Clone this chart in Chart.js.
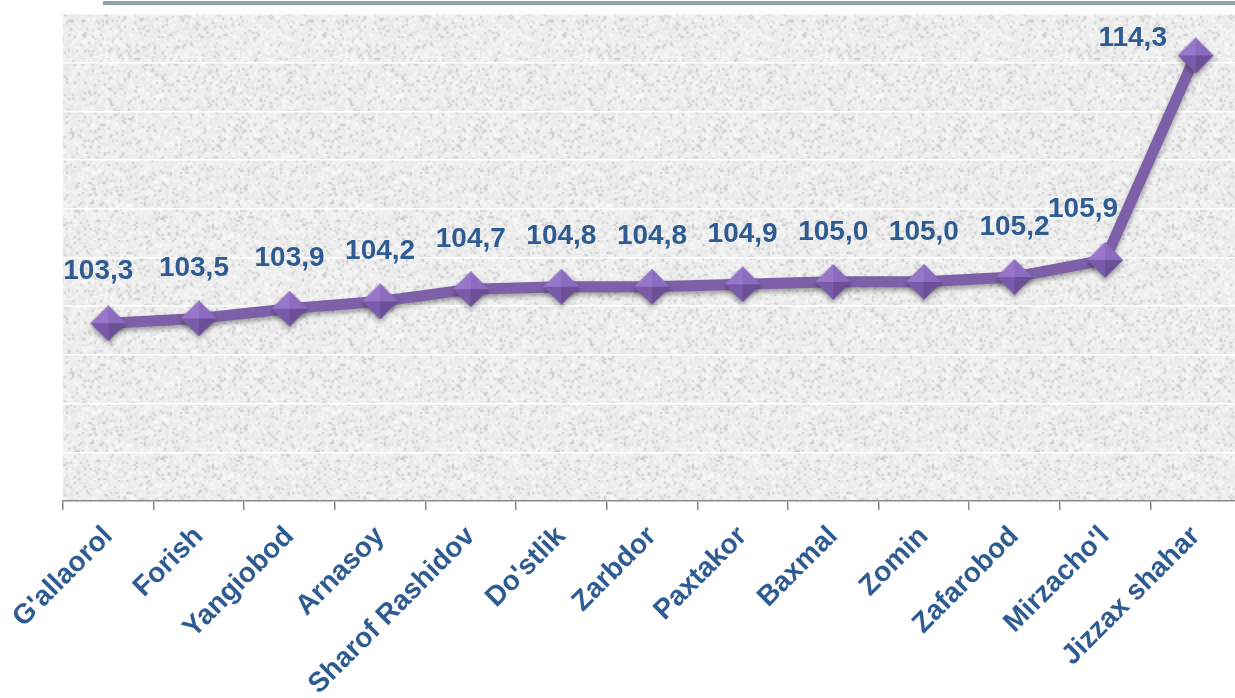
<!DOCTYPE html>
<html>
<head>
<meta charset="utf-8">
<script src="https://cdn.jsdelivr.net/npm/chart.js@4.4.1/dist/chart.umd.min.js"></script>
<style>
  html, body { margin: 0; padding: 0; background: #fff; overflow: hidden; width: 1235px; height: 698px; }
  #topRule { position: absolute; left: 103px; top: 1px; width: 1132px; height: 4px; background: #8ba5ae; }
  #wrap { position: absolute; left: 0; top: 0; width: 1241px; height: 698px; }
</style>
</head>
<body>
<div id="topRule"></div>
<div id="wrap"><canvas id="growthChart" width="1241" height="698"></canvas></div>
<script>
"strict";

// districts of Jizzax region
const categories = [
  "G'allaorol", "Forish", "Yangiobod", "Arnasoy", "Sharof Rashidov", "Do'stlik",
  "Zarbdor", "Paxtakor", "Baxmal", "Zomin", "Zafarobod", "Mirzacho'l", "Jizzax shahar"
];
const growthValues = [103.3, 103.5, 103.9, 104.2, 104.7, 104.8, 104.8, 104.9, 105.0, 105.0, 105.2, 105.9, 114.3];
const yMin = 96;
const yMax = 116;
const yStep = 2;

const labelColor = "#2e5c92";
const lineColor = "#7e60a8";

// grey speckled background, built once
function makeTexture() {
  const small = document.createElement("canvas");
  small.width = 120;
  small.height = 120;
  const sctx = small.getContext("2d");
  const img = sctx.createImageData(120, 120);
  let seed = 12345;
  const next = () => {
    seed = (seed * 1103515245 + 12345) & 0x7fffffff;
    return seed / 0x7fffffff;
  };
  for (let i = 0; i < 120 * 120; i++) {
    const n = next();
    let v = 238 + (n - 0.5) * 24;
    if (n < 0.07) v -= 26;
    img.data[i * 4] = v;
    img.data[i * 4 + 1] = v;
    img.data[i * 4 + 2] = v;
    img.data[i * 4 + 3] = 255;
  }
  sctx.putImageData(img, 0, 0);
  const big = document.createElement("canvas");
  big.width = 240;
  big.height = 240;
  const bctx = big.getContext("2d");
  bctx.imageSmoothingEnabled = true;
  bctx.drawImage(small, 0, 0, 240, 240);
  return big;
}

// bevelled diamond marker
function makeDiamond() {
  const c = document.createElement("canvas");
  const s = 36;
  c.width = s;
  c.height = s;
  const g = c.getContext("2d");
  const m = s / 2;
  const tri = (ax, ay, bx, by, color) => {
    g.beginPath();
    g.moveTo(m, m);
    g.lineTo(ax, ay);
    g.lineTo(bx, by);
    g.closePath();
    g.fillStyle = color;
    g.fill();
  };
  tri(0, m, m, 0, "#9877cb");
  tri(m, 0, s, m, "#8c6cc0");
  tri(s, m, m, s, "#6d4f98");
  tri(m, s, 0, m, "#7a5aa9");
  return c;
}

const texture = makeTexture();
const diamond = makeDiamond();

const plotBackground = {
  id: "plotBackground",
  beforeDraw(chart) {
    const { ctx, chartArea } = chart;
    ctx.save();
    ctx.fillStyle = ctx.createPattern(texture, "repeat");
    ctx.fillRect(chartArea.left, chartArea.top, chartArea.right - chartArea.left, chartArea.bottom - chartArea.top);
    ctx.restore();
  },
};

const lineShadow = {
  id: "lineShadow",
  beforeDatasetDraw(chart) {
    const ctx = chart.ctx;
    ctx.save();
    ctx.shadowColor = "rgba(0,0,0,0.35)";
    ctx.shadowBlur = 5;
    ctx.shadowOffsetY = 3;
  },
  afterDatasetDraw(chart) {
    chart.ctx.restore();
  },
};

// value labels, Excel style (comma decimal)
const valueLabels = {
  id: "valueLabels",
  afterDatasetsDraw(chart, args, opts) {
    const { ctx } = chart;
    const meta = chart.getDatasetMeta(0);
    ctx.save();
    ctx.font = "bold 28px 'Liberation Sans', Arial, sans-serif";
    ctx.fillStyle = labelColor;
    ctx.textAlign = "center";
    ctx.textBaseline = "middle";
    meta.data.forEach((pt, i) => {
      const shift = opts.shifts[i] || [0, -50];
      const text = growthValues[i].toFixed(1).replace(".", ",");
      ctx.fillText(text, pt.x + shift[0], pt.y + shift[1]);
    });
    ctx.restore();
  },
};

const ctx = document.getElementById("growthChart").getContext("2d");

new Chart(ctx, {
  type: "line",
  data: {
    labels: categories,
    datasets: [
      {
        data: growthValues,
        borderColor: lineColor,
        borderWidth: 11,
        tension: 0,
        pointStyle: diamond,
        pointRadius: 18,
        clip: false,
      },
    ],
  },
  plugins: [plotBackground, lineShadow, valueLabels],
  options: {
    responsive: false,
    animation: false,
    events: [],
    layout: { autoPadding: false, padding: { top: 14, left: 0, right: 0, bottom: 0 } },
    plugins: {
      legend: { display: false },
      tooltip: { enabled: false },
      valueLabels: {
        shifts: { 0: [-10, -52], 1: [-5, -50], 11: [-22, -51], 12: [-63, -17] },
      },
    },
    scales: {
      x: {
        offset: true,
        grid: {
          offset: true,
          drawOnChartArea: false,
          drawTicks: true,
          tickLength: 9,
          color: "#8a8a8a",
          lineWidth: 1.5,
        },
        border: { color: "#8a8a8a", width: 1.5 },
        ticks: {
          color: labelColor,
          font: { family: "'Liberation Sans', Arial, sans-serif", size: 28, weight: "bold" },
          minRotation: 45,
          maxRotation: 45,
          padding: 10,
          autoSkip: false,
        },
        afterFit(scale) {
          scale.height = 197;
          scale.paddingLeft = 0;
          scale.paddingRight = 0;
        },
      },
      y: {
        min: yMin,
        max: yMax,
        grid: { color: "#ffffff", lineWidth: 1.5, drawTicks: false },
        border: { display: false },
        ticks: { display: false, stepSize: yStep },
        afterFit(scale) {
          scale.width = 63;
        },
      },
    },
  },
});
</script>
</body>
</html>
